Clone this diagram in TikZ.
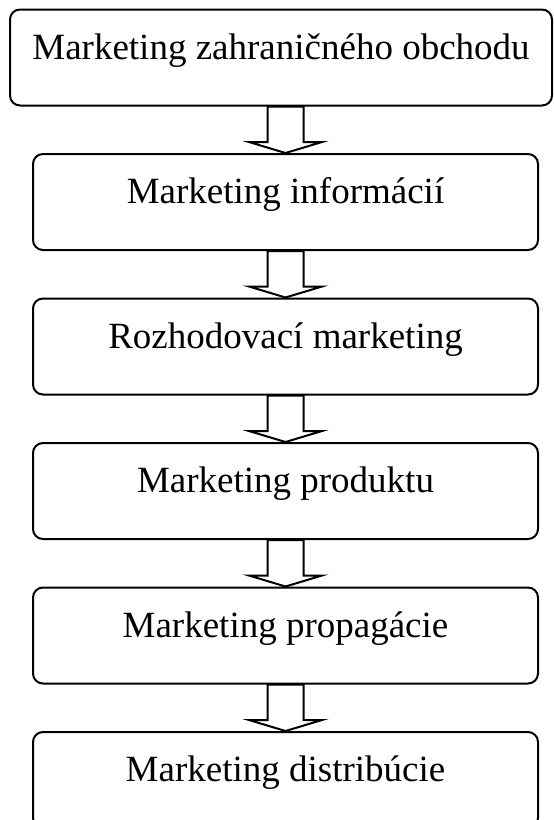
\documentclass[tikz,border=0pt]{standalone}
\usepackage{fontspec}
\setmainfont{Liberation Serif}
\usetikzlibrary{calc}

\tikzset{
  krok/.style={draw,line width=1pt,rounded corners=5pt,inner sep=0pt,
    text height=24.75pt,text depth=23.25pt,font=\fontsize{18.5}{22}\selectfont},
  blokova/.style={draw,fill=white,line width=1pt,line join=miter},
}

\begin{document}
\begin{tikzpicture}[x=0.5pt,y=-0.5pt]
  \clip (0,0) rectangle (553,820);
  \node[krok,minimum width=271pt] (zahr) at (281,57.5) {Marketing zahraničného obchodu};
  \foreach \n/\t [count=\k] in {info/Marketing informácií,
      rozh/Rozhodovací marketing,
      prod/Marketing produktu,
      prop/Marketing propagácie,
      dist/Marketing distribúcie} {
    \node[krok,minimum width=252.5pt] (\n) at (285.5,{57.5+144.5*\k}) {\t};
  }
  % hollow block arrows between the boxes
  \foreach \a/\b in {zahr/info,info/rozh,rozh/prod,prod/prop,prop/dist} {
    \draw[blokova] ($(\a.south -| \b.north)+(-18,0)$) -- ($(\b.north)+(-18,-11)$)
      -- ($(\b.north)+(-36.5,-11)$) -- (\b.north) -- ($(\b.north)+(36.5,-11)$)
      -- ($(\b.north)+(18,-11)$) -- ($(\a.south -| \b.north)+(18,0)$) -- cycle;
  }
\end{tikzpicture}
\end{document}
